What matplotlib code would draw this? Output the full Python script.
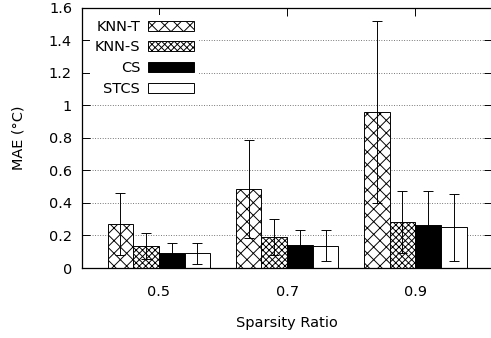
import matplotlib
matplotlib.use("Agg")
import matplotlib.pyplot as plt
import numpy as np
from matplotlib.ticker import FuncFormatter

# data
ratios = ["0.5", "0.7", "0.9"]
methods = ["KNN-T", "KNN-S", "CS", "STCS"]
knn_t = [0.27, 0.485, 0.96]
knn_t_err = [0.19, 0.30, 0.56]
knn_s = [0.135, 0.19, 0.28]
knn_s_err = [0.078, 0.11, 0.19]
cs = [0.09, 0.14, 0.262]
cs_err = [0.064, 0.094, 0.21]
stcs = [0.09, 0.138, 0.25]
stcs_err = [0.066, 0.093, 0.205]

values = [knn_t, knn_s, cs, stcs]
errors = [knn_t_err, knn_s_err, cs_err, stcs_err]
styles = [dict(facecolor="white", hatch="xx"),
          dict(facecolor="white", hatch="xxxx"),
          dict(facecolor="black", hatch=None),
          dict(facecolor="white", hatch=None)]

DPI = 76
FS = 13.7
plt.rcParams["font.family"] = ["DejaVu Sans"]
plt.rcParams["font.size"] = FS
plt.rcParams["hatch.linewidth"] = 0.9
plt.rcParams["hatch.color"] = "black"

W, H = 491, 338
fig = plt.figure(figsize=(W / DPI, H / DPI), dpi=DPI)
left, right, bottom, top = 82, 492.2, 268, 7.5
ax = fig.add_axes([left / W, (H - bottom) / H, (right - left) / W, (bottom - top) / H])

x = np.arange(len(ratios))
width = 0.2
for i, (name, vals, errs, st) in enumerate(zip(methods, values, errors, styles)):
    pos = x + (i - 1.5) * width
    ax.bar(pos, vals, width, edgecolor="black", linewidth=0.9, label=name,
           zorder=2, **st)
    ax.errorbar(pos, vals, yerr=errs, fmt="none", ecolor="black",
                elinewidth=0.9, capsize=4.3, capthick=0.9, zorder=3)

ax.set_xlim(-0.6, 2.6)
ax.set_ylim(0, 1.6)
ax.set_xticks(x)
ax.set_xticklabels(ratios)
ax.set_yticks(np.arange(0, 1.61, 0.2))
ax.yaxis.set_major_formatter(FuncFormatter(lambda v, p: "%g" % round(v, 1)))
ax.tick_params(direction="in", length=7.6, width=0.9, top=True, right=True)
ax.tick_params(axis="y", pad=9.5)
ax.tick_params(axis="x", pad=16)
for sp in ax.spines.values():
    sp.set_linewidth(1.2)

ax.yaxis.grid(True, linestyle=(0, (1, 2)), color="0.3", linewidth=0.8, zorder=0)
ax.set_axisbelow(True)

ax.set_xlabel("Sparsity Ratio", labelpad=16)
ax.set_ylabel("MAE (°C)", labelpad=22)

leg = ax.legend(loc="upper left", bbox_to_anchor=(0.02, 0.97), borderaxespad=0,
                markerfirst=False, frameon=True, fancybox=False, framealpha=1,
                edgecolor="none", facecolor="white", borderpad=0.3,
                handlelength=3.17, handleheight=0.7, handletextpad=0.55,
                labelspacing=0.47)
leg.set_zorder(5)

fig.savefig("out.png", dpi=DPI)
